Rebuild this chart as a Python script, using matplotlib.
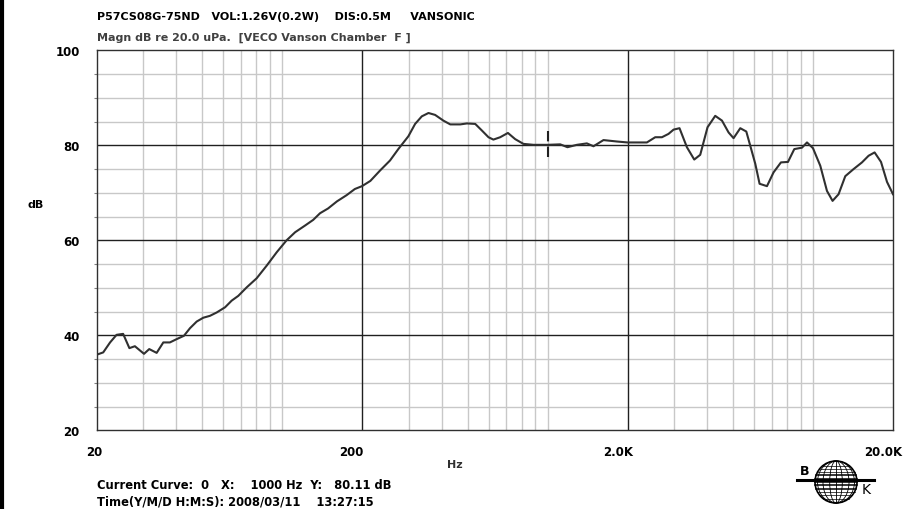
import numpy as np
import matplotlib.pyplot as plt
from matplotlib.patches import Circle, Ellipse
from matplotlib.ticker import FixedLocator, NullFormatter

# curve (Hz, dB)
freq = [20, 21.2, 22.5, 23.8, 25.2, 26.6, 27.9, 30.2, 31.6, 33.7, 35.7, 37.8, 40.1,
        42.7, 45, 47.7, 50.5, 53.5, 56.7, 61, 64.6, 68.4, 73.6, 80.2, 87.6, 95.5,
        104, 112, 122, 131, 139, 149, 161, 175, 188, 200, 215, 234, 255, 274, 299,
        317, 336, 356, 377, 405, 430, 469, 497, 534, 566, 599, 625, 663, 709, 755,
        811, 885, 1000, 1116, 1188, 1290, 1406, 1489, 1624, 1824, 2000, 2366, 2544,
        2696, 2854, 2982, 3140, 3348, 3568, 3758, 4004, 4280, 4538, 4806, 5018,
        5318, 5604, 5800, 6058, 6288, 6704, 7098, 7568, 8044, 8496, 9082, 9486,
        9990, 10644, 11280, 11842, 12474, 13222, 14212, 15282, 16184, 17050,
        18024, 18986, 20000]
db = [35.9, 36.4, 38.5, 40.1, 40.3, 37.3, 37.7, 36.1, 37.1, 36.3, 38.5, 38.5, 39.2,
      39.9, 41.5, 42.9, 43.7, 44.1, 44.8, 45.9, 47.3, 48.3, 50.1, 52.0, 54.7, 57.5,
      60.0, 61.7, 63.1, 64.3, 65.7, 66.7, 68.2, 69.5, 70.8, 71.4, 72.5, 74.7, 76.8,
      79.2, 81.9, 84.5, 86.1, 86.8, 86.4, 85.2, 84.4, 84.4, 84.6, 84.5, 83.1, 81.7,
      81.2, 81.7, 82.6, 81.3, 80.3, 80.1, 80.1, 80.2, 79.6, 80.1, 80.4, 79.8, 81.1,
      80.8, 80.6, 80.6, 81.7, 81.7, 82.4, 83.3, 83.6, 79.6, 77.0, 78.0, 83.8, 86.2,
      85.2, 82.7, 81.5, 83.6, 82.9, 79.9, 76.1, 71.9, 71.4, 74.3, 76.4, 76.5, 79.2,
      79.5, 80.6, 79.4, 75.7, 70.4, 68.3, 69.7, 73.5, 75.0, 76.4, 77.8, 78.5, 76.5,
      72.3, 69.7]

x_labels = ["20", "200", "2.0K", "20.0K"]
x_label_pos = [20, 200, 2000, 20000]
y_major = [20, 40, 60, 80, 100]
cursor_f = 1000

header = "P57CS08G-75ND   VOL:1.26V(0.2W)    DIS:0.5M     VANSONIC"
subtitle = "Magn dB re 20.0 uPa.  [VECO Vanson Chamber  F ]"
status1 = "Current Curve:  0   X:    1000 Hz  Y:   80.11 dB"
status2 = "Time(Y/M/D H:M:S): 2008/03/11    13:27:15"

W, H = 910, 510
plt.rcParams['font.family'] = ['DejaVu Sans']
fig = plt.figure(figsize=(W / 100, H / 100), dpi=100)
ax = fig.add_axes([96.5 / W, 1 - 431.3 / H, (893 - 96.5) / W, 380 / H])

ax.set_xscale('log')
ax.set_xlim(20, 20000)
ax.set_ylim(20, 100)

# grid: heavy lines at 20*10^k, light ones at 3..10 x 10^k
minor_x = [m * d for d in (10, 100, 1000) for m in range(3, 11)]
for v in minor_x:
    ax.axvline(v, color='#c8c8c8', lw=1.0, zorder=1)
for v in range(25, 100, 5):
    if v % 20:
        ax.axhline(v, color='#c8c8c8', lw=1.0, zorder=1)
for v in (200, 2000):
    ax.axvline(v, color='#202020', lw=1.0, zorder=2)
for v in (40, 60, 80):
    ax.axhline(v, color='#202020', lw=1.0, zorder=2)

ax.plot(freq, db, color='#303030', lw=1.5, zorder=3)
ax.plot([cursor_f, cursor_f], [77.5, 83.1], color='#202020', lw=1.5,
        ls=(0, (5, 2.5)), zorder=4)

for s in ax.spines.values():
    s.set_color('#303030')
    s.set_linewidth(1.0)

ax.set_yticks(y_major)
ax.set_yticklabels([str(v) for v in y_major], fontsize=8.5, fontweight='bold')
ax.yaxis.set_minor_locator(FixedLocator(list(range(25, 100, 5))))
ax.tick_params(axis='y', which='major', length=0, pad=12)
ax.tick_params(axis='y', which='minor', length=2, width=0.8, color='#808080',
               direction='out')
ax.set_xticks([])
ax.xaxis.set_minor_locator(FixedLocator([]))
ax.xaxis.set_minor_formatter(NullFormatter())

x_offsets = [6, 2, 6, 9]
for f, lab, dx in zip(x_label_pos, x_labels, x_offsets):
    ax.annotate(lab, xy=(f, 0), xycoords=('data', 'axes fraction'),
                xytext=(dx * 0.72, -15.5), textcoords='offset points',
                ha='right', va='center', fontsize=8.5, fontweight='bold')

fig.text(27 / W, 1 - 205 / H, "dB", fontsize=8, fontweight='bold', va='center')
fig.text(447 / W, 1 - 465 / H, "Hz", fontsize=8, fontweight='bold', va='center',
         color='#303030')
fig.text(97 / W, 1 - 17 / H, header, fontsize=8, fontweight='bold', va='center')
fig.text(97 / W, 1 - 38 / H, subtitle, fontsize=8, fontweight='bold', va='center',
         color='#404040')
fig.text(97 / W, 1 - 486 / H, status1, fontsize=8.3, fontweight='bold', va='center')
fig.text(97 / W, 1 - 502 / H, status2, fontsize=8.3, fontweight='bold', va='center')

# left border of the window
fig.add_artist(plt.Line2D([1.5 / W, 1.5 / W], [0, 1], color='black', lw=3))

# B&K style globe logo
lax = fig.add_axes([790 / W, 1 - 510 / H, 90 / W, 55 / H])
lax.set_xlim(0, 90)
lax.set_ylim(55, 0)
lax.set_aspect('equal')
lax.axis('off')
cx, cy, r = 46, 28, 21
lax.add_patch(Circle((cx, cy), r, fill=False, lw=1.2, color='black'))
for w in (0.3, 0.62, 0.88):
    lax.add_patch(Ellipse((cx, cy), 2 * r * w, 2 * r, fill=False, lw=0.6,
                          color='black'))
lax.plot([cx, cx], [cy - r, cy + r], color='black', lw=0.6)
for dy in np.arange(-16.5, 17, 3.3):
    hw = np.sqrt(max(r * r - dy * dy, 0))
    lax.plot([cx - hw, cx + hw], [cy + dy, cy + dy], color='black',
             lw=0.5 if abs(dy) > 7 else 1.1)
lax.plot([7, 84], [26, 26], color='black', lw=2.2)
lax.text(10, 23, "B", fontsize=9, fontweight='bold', va='bottom', ha='left')
lax.text(72, 28, "K", fontsize=10, va='top', ha='left')

fig.savefig("out.png", dpi=100)
